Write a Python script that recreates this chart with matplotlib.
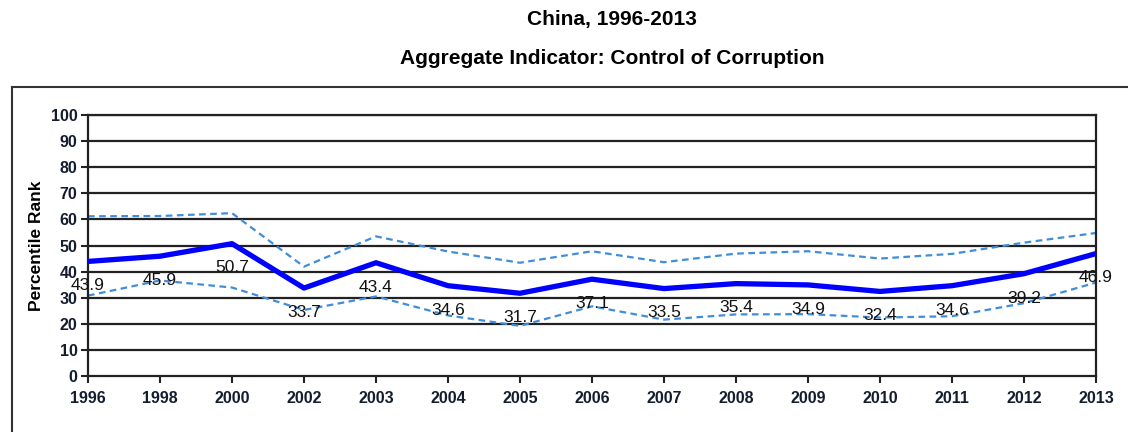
import matplotlib.pyplot as plt
from matplotlib.lines import Line2D

years = ['1996', '1998', '2000', '2002', '2003', '2004', '2005', '2006',
         '2007', '2008', '2009', '2010', '2011', '2012', '2013']
rank = [43.9, 45.9, 50.7, 33.7, 43.4, 34.6, 31.7, 37.1,
        33.5, 35.4, 34.9, 32.4, 34.6, 39.2, 46.9]
upper = [61.2, 61.3, 62.4, 41.9, 53.5, 47.7, 43.4, 47.8,
         43.6, 46.9, 47.8, 45.0, 46.8, 51.1, 54.8]
lower = [30.8, 36.6, 33.9, 25.3, 30.5, 23.2, 19.2, 26.7,
         21.6, 23.6, 23.7, 22.4, 22.9, 27.9, 35.8]

plt.rcParams['font.family'] = ['Liberation Sans', 'DejaVu Sans']

fig = plt.figure(figsize=(11.28, 4.32), dpi=100)
ax = fig.add_axes([0.078, 0.1296, 0.8936, 0.6042])

x = range(len(years))
for y in range(10, 101, 10):
    ax.axhline(y, color='#222222', lw=1.6, zorder=1)
ax.plot(x, upper, color='#3f8ddb', lw=1.6, ls=(0, (3, 2)), zorder=2)
ax.plot(x, lower, color='#3f8ddb', lw=1.6, ls=(0, (3, 2)), zorder=2)
ax.plot(x, rank, color='#0000ff', lw=3.8, zorder=3, solid_joinstyle='round')

# data labels under each point
for i, v in enumerate(rank):
    ax.annotate(f'{v:.1f}', (i, v), xytext=(0, -17.5), textcoords='offset points',
                ha='center', va='center', fontsize=12.5, color='#111111', zorder=4,
                annotation_clip=False)

ax.set_xlim(0, len(years) - 1)
ax.set_ylim(0, 100)
ax.set_xticks(list(x))
ax.set_xticklabels(years, fontsize=11.5, fontweight='bold', color='#141c30')
ax.set_yticks(range(0, 101, 10))
ax.set_yticklabels([str(v) for v in range(0, 101, 10)], fontsize=11.5,
                   fontweight='bold', color='#141c30')
ax.tick_params(axis='both', direction='out', length=5, width=1.5, color='#222222')
ax.tick_params(axis='x', pad=5.5)
ax.tick_params(axis='y', pad=2.5)
for s in ax.spines.values():
    s.set_linewidth(1.6)
    s.set_color('#222222')
ax.set_ylabel('Percentile Rank', fontsize=12.5, fontweight='bold', labelpad=5)

fig.text(0.5426, 0.955, 'China, 1996-2013', ha='center', va='center',
         fontsize=15, fontweight='bold')
fig.text(0.5426, 0.865, 'Aggregate Indicator: Control of Corruption', ha='center',
         va='center', fontsize=15, fontweight='bold')

# outer frame (top and left edges only visible)
fig.add_artist(Line2D([0.0104, 1.0], [0.798, 0.798], transform=fig.transFigure,
                      color='#333333', lw=1.5))
fig.add_artist(Line2D([0.0104, 0.0104], [0.798, 0.0], transform=fig.transFigure,
                      color='#333333', lw=1.5))

fig.savefig('out.png', dpi=100)
